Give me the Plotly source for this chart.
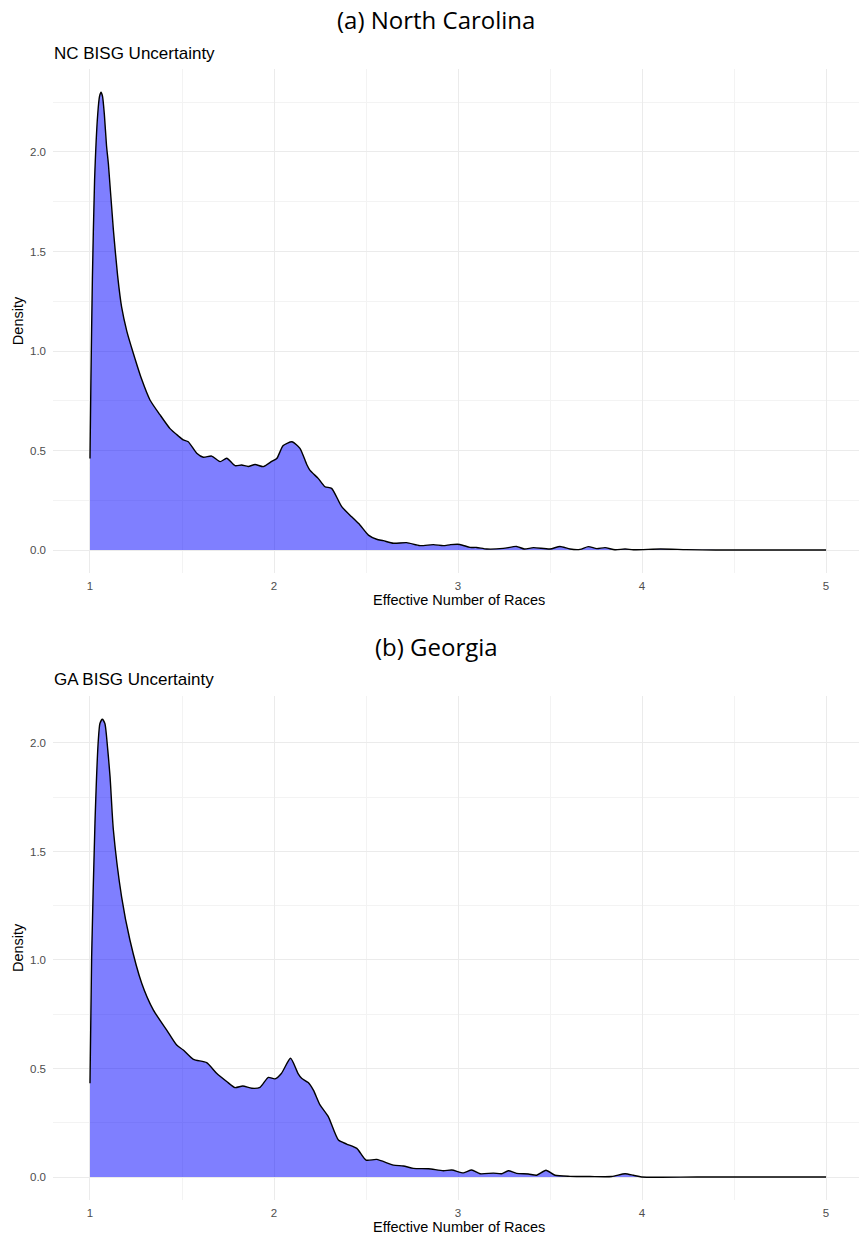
import plotly.graph_objects as go

# ---- data ----
nc_x = [1.000, 1.005, 1.013, 1.025, 1.042, 1.052, 1.060, 1.068, 1.078, 1.090, 1.100, 1.127, 1.150,
        1.172, 1.200, 1.235, 1.280, 1.326, 1.380, 1.435, 1.480, 1.507, 1.534, 1.580, 1.616, 1.661,
        1.707, 1.743, 1.788, 1.824, 1.860, 1.897, 1.942, 1.987, 2.015, 2.050, 2.098, 2.141, 2.178,
        2.196, 2.240, 2.277, 2.313, 2.368, 2.422, 2.467, 2.513, 2.558, 2.594, 2.649, 2.721, 2.793,
        2.866, 2.920, 2.960, 3.010, 3.065, 3.100, 3.156, 3.246, 3.318, 3.360, 3.410, 3.500, 3.554,
        3.609, 3.663, 3.708, 3.754, 3.799, 3.853, 3.908, 3.953, 4.100, 4.240, 4.400, 5.000]
nc_y = [0.46, 0.85, 1.36, 1.86, 2.19, 2.28, 2.30, 2.28, 2.19, 2.03, 1.94, 1.61, 1.38,
        1.22, 1.10, 0.99, 0.86, 0.754, 0.68, 0.61, 0.573, 0.553, 0.544, 0.486, 0.466, 0.472,
        0.444, 0.461, 0.424, 0.427, 0.420, 0.430, 0.419, 0.445, 0.460, 0.525, 0.544, 0.511, 0.430,
        0.400, 0.360, 0.318, 0.310, 0.218, 0.167, 0.126, 0.075, 0.054, 0.047, 0.034, 0.037, 0.022,
        0.027, 0.022, 0.027, 0.028, 0.013, 0.013, 0.005, 0.008, 0.018, 0.005, 0.012, 0.005, 0.018,
        0.005, 0.003, 0.017, 0.007, 0.012, 0.001, 0.005, 0.001, 0.005, 0.002, 0.0, 0.0]

ga_x = [1.000, 1.009, 1.027, 1.045, 1.054, 1.067, 1.081, 1.090, 1.109, 1.127, 1.172, 1.217, 1.281,
        1.344, 1.417, 1.471, 1.507, 1.562, 1.634, 1.688, 1.743, 1.788, 1.830, 1.879, 1.924, 1.969,
        2.005, 2.040, 2.090, 2.130, 2.150, 2.186, 2.214, 2.250, 2.295, 2.350, 2.395, 2.450, 2.500,
        2.558, 2.649, 2.703, 2.757, 2.840, 2.920, 2.966, 3.030, 3.074, 3.120, 3.192, 3.237, 3.273,
        3.318, 3.382, 3.427, 3.478, 3.527, 3.609, 3.717, 3.835, 3.908, 3.953, 3.998, 4.300, 5.000]
ga_y = [0.432, 1.015, 1.63, 2.01, 2.09, 2.11, 2.09, 2.03, 1.845, 1.60, 1.29, 1.092, 0.893,
        0.77, 0.677, 0.608, 0.585, 0.542, 0.527, 0.478, 0.440, 0.412, 0.419, 0.409, 0.413, 0.459,
        0.452, 0.477, 0.547, 0.478, 0.455, 0.435, 0.400, 0.332, 0.278, 0.170, 0.152, 0.132, 0.078,
        0.081, 0.055, 0.051, 0.040, 0.038, 0.029, 0.032, 0.019, 0.032, 0.015, 0.018, 0.015, 0.029,
        0.017, 0.014, 0.008, 0.031, 0.008, 0.003, 0.002, 0.002, 0.015, 0.008, 0.0, 0.0, 0.0]

x_ticks = [1, 2, 3, 4, 5]
y_ticks = [0.0, 0.5, 1.0, 1.5, 2.0]
y_tick_text = ["0.0", "0.5", "1.0", "1.5", "2.0"]

main_titles = ["(a) North Carolina", "(b) Georgia"]
sub_titles = ["NC BISG Uncertainty", "GA BISG Uncertainty"]
x_title = "Effective Number of Races"
y_title = "Density"

# ---- figure (page body margin removed via post_script, so page px == figure px) ----
W, H = 859, 1238
fig = go.Figure()

def pyf(p):  # pixel-from-top -> paper y
    return 1 - p / H

def pxf(p):  # pixel-from-left -> paper x
    return p / W

panels = [
    dict(x=nc_x, y=nc_y, top=69.4, bot=572.9, yr=[-0.115, 2.415], xa="x", ya="y"),
    dict(x=ga_x, y=ga_y, top=696.2, bot=1199.9, yr=[-0.1055, 2.2155], xa="x2", ya="y2"),
]

font_axis = "Liberation Sans, Arial, sans-serif"
grid_major = "#EBEBEB"
grid_minor = "#F3F3F3"

for i, p in enumerate(panels):
    fig.add_trace(go.Scatter(
        x=p["x"], y=p["y"], mode="lines", fill="tozeroy",
        fillcolor="rgba(0,0,255,0.5)",
        line=dict(color="black", width=1.4, shape="spline", smoothing=0.6),
        xaxis=p["xa"], yaxis=p["ya"], showlegend=False, hoverinfo="x+y",
    ))
    sfx = "" if i == 0 else "2"
    fig.update_layout(**{
        "xaxis" + sfx: dict(
            domain=[pxf(53), 1], range=[0.799, 5.179], anchor="y" + sfx,
            tickvals=x_ticks, ticktext=[str(t) for t in x_ticks],
            showgrid=True, gridcolor=grid_major, gridwidth=1.1, zeroline=False,
            showline=False, ticks="", ticklabelstandoff=5,
            tickfont=dict(family=font_axis, size=11.5, color="#4D4D4D"),
            minor=dict(dtick=0.5, tick0=1, showgrid=True, gridcolor=grid_minor, gridwidth=0.6),
            fixedrange=True,
        ),
        "yaxis" + sfx: dict(
            domain=[pyf(p["bot"]), pyf(p["top"])], range=p["yr"], anchor="x" + sfx,
            tickvals=y_ticks, ticktext=y_tick_text,
            showgrid=True, gridcolor=grid_major, gridwidth=1.1, zeroline=False,
            showline=False, ticks="", ticklabelstandoff=6,
            tickfont=dict(family=font_axis, size=11.5, color="#4D4D4D"),
            minor=dict(dtick=0.25, tick0=0, showgrid=True, gridcolor=grid_minor, gridwidth=0.6),
            fixedrange=True,
        ),
    })

offsets = [0, 627]
anns = []
for i, off in enumerate(offsets):
    anns.append(dict(text=main_titles[i], x=pxf(436), y=pyf(19 + off), xref="paper", yref="paper",
                     showarrow=False, xanchor="center", yanchor="middle",
                     font=dict(family="Open Sans, Noto Sans, sans-serif", size=24, color="black")))
    anns.append(dict(text=sub_titles[i], x=pxf(52), y=pyf(53 + off), xref="paper", yref="paper",
                     showarrow=False, xanchor="left", yanchor="middle",
                     font=dict(family=font_axis, size=17, color="black")))
    anns.append(dict(text=x_title, x=pxf((90 + 826) / 2 + 1), y=pyf(600 + off), xref="paper", yref="paper",
                     showarrow=False, xanchor="center", yanchor="middle",
                     font=dict(family=font_axis, size=14.5, color="black")))
    mid = (panels[i]["top"] + panels[i]["bot"]) / 2
    anns.append(dict(text=y_title, x=pxf(18), y=pyf(mid), xref="paper", yref="paper",
                     showarrow=False, xanchor="center", yanchor="middle", textangle=-90,
                     font=dict(family=font_axis, size=14.5, color="black")))

fig.update_layout(
    width=W, height=H, margin=dict(l=0, r=0, t=0, b=0),
    paper_bgcolor="white", plot_bgcolor="white",
    annotations=anns, showlegend=False,
)

fig.write_html(
    "out.html",
    config={"displayModeBar": False},
    post_script="document.body.style.margin='0';document.body.style.overflow='hidden';",
)
